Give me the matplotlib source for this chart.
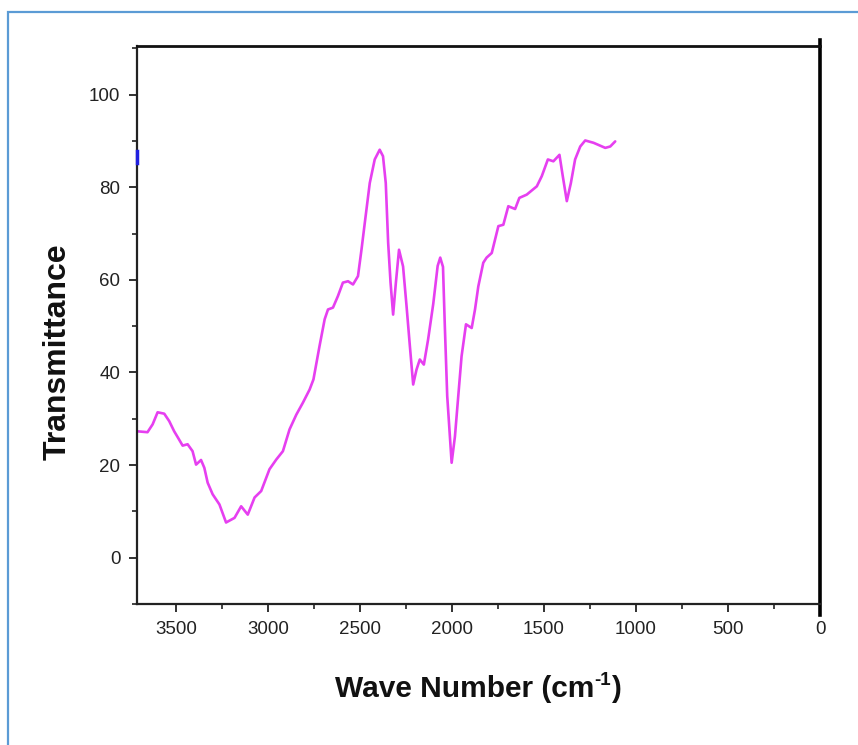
import matplotlib
matplotlib.use("Agg")
import matplotlib.pyplot as plt
from matplotlib.patches import Rectangle
from matplotlib.lines import Line2D
from matplotlib.ticker import MultipleLocator

plt.rcParams['font.family'] = ['Liberation Sans', 'DejaVu Sans']

wavenumber = [3712, 3655, 3627, 3600, 3564, 3537, 3510, 3486, 3464, 3437, 3410, 3391,
              3364, 3346, 3328, 3301, 3264, 3228, 3182, 3146, 3110, 3073, 3037, 2992,
              2955, 2919, 2883, 2846, 2810, 2774, 2753, 2720, 2692, 2674, 2647, 2620,
              2593, 2565, 2538, 2511, 2492, 2474, 2447, 2420, 2393, 2375, 2360, 2347,
              2334, 2320, 2305, 2288, 2266, 2247, 2229, 2211, 2193, 2175, 2153, 2130,
              2102, 2078, 2064, 2049, 2039, 2026, 2002, 1984, 1966, 1948, 1924, 1893,
              1875, 1857, 1830, 1812, 1784, 1766, 1748, 1721, 1694, 1657, 1634, 1594,
              1539, 1512, 1479, 1449, 1416, 1398, 1376, 1354, 1331, 1303, 1276, 1231,
              1167, 1140, 1113]
transmittance = [27.3, 27.1, 28.8, 31.4, 31.1, 29.5, 27.3, 25.7, 24.2, 24.5, 23.0, 20.1,
                 21.1, 19.4, 16.2, 13.7, 11.5, 7.6, 8.6, 11.1, 9.3, 13.0, 14.4, 19.1,
                 21.2, 23.0, 27.7, 30.9, 33.5, 36.3, 38.5, 45.7, 51.5, 53.6, 54.0, 56.5,
                 59.4, 59.7, 59.0, 60.8, 66.5, 72.3, 80.9, 86.0, 88.1, 86.7, 80.9, 68.0,
                 59.4, 52.5, 59.4, 66.5, 62.9, 54.3, 45.7, 37.4, 40.6, 42.8, 41.7, 47.1,
                 54.8, 63.0, 64.8, 62.8, 50.0, 34.9, 20.5, 26.2, 34.9, 43.5, 50.4, 49.6,
                 53.6, 58.6, 63.7, 64.8, 65.8, 68.7, 71.6, 71.9, 75.9, 75.3, 77.7, 78.4,
                 80.2, 82.4, 86.0, 85.6, 87.0, 82.4, 77.0, 80.9, 86.0, 88.8, 90.1, 89.6,
                 88.5, 88.8, 89.9]

# small blue artifact on the left axis
blue_mark_y = [85.2, 87.8]

x_ticks = [3500, 3000, 2500, 2000, 1500, 1000, 500, 0]
y_ticks = [0, 20, 40, 60, 80, 100]
x_left, x_right = 3712, 0
y_bottom, y_top = -10, 110.5

W, H = 858, 745
fig = plt.figure(figsize=(W/100, H/100), dpi=100)
ax = fig.add_axes([137/W, 1-604/H, (820-137)/W, (604-46)/H])

ax.plot(wavenumber, transmittance, color='#e63ff0', lw=1.9, solid_capstyle='round',
        solid_joinstyle='round')
ax.plot([x_left, x_left], blue_mark_y, color='#2020e0', lw=2.5, clip_on=False, zorder=5)

ax.set_xlim(x_left, x_right)
ax.set_ylim(y_bottom, y_top)
ax.set_xticks(x_ticks)
ax.set_yticks(y_ticks)
ax.xaxis.set_minor_locator(MultipleLocator(250))
ax.yaxis.set_minor_locator(MultipleLocator(10))
ax.tick_params(which='major', direction='out', length=6, width=1.3, colors='#222222',
               labelsize=13.5, labelcolor='#222222')
ax.tick_params(axis='x', which='major', pad=6)
ax.tick_params(axis='y', which='major', pad=6)
ax.tick_params(which='minor', direction='out', length=3.5, width=1.2, colors='#222222')
ax.tick_params(top=False, right=False, which='both')

for s in ['left', 'bottom']:
    ax.spines[s].set_linewidth(1.6)
    ax.spines[s].set_color('#222222')
ax.spines['top'].set_linewidth(2.0)
ax.spines['top'].set_color('#111111')
ax.spines['right'].set_visible(False)
ax.add_line(Line2D([1, 1], [-0.02, 1.01], transform=ax.transAxes, color='#000000',
                   lw=2.6, clip_on=False))

# x label composed of main text, hyphen superscript and closing bracket
renderer = fig.canvas.get_renderer()
base_y = 1 - 697/H
t1 = fig.text(0, base_y, 'Wave Number (cm', ha='left', va='baseline',
              fontsize=21.5, fontweight='bold', color='#111111')
t2 = fig.text(0, base_y, '-1', ha='left', va='baseline',
              fontsize=13.5, fontweight='bold', color='#111111')
t3 = fig.text(0, base_y, ')', ha='left', va='baseline',
              fontsize=21.5, fontweight='bold', color='#111111')
w1 = t1.get_window_extent(renderer).width
w2 = t2.get_window_extent(renderer).width
w3 = t3.get_window_extent(renderer).width
total = w1 + w2 + w3
x0 = 478 - total / 2
t1.set_x(x0 / W)
t2.set_x((x0 + w1) / W)
t2.set_y(1 - 685/H)
t3.set_x((x0 + w1 + w2) / W)

fig.text(58/W, 1-352/H, 'Transmittance', ha='center', va='center', rotation=90,
         fontsize=23, fontweight='bold', color='#111111')

fig.add_artist(Rectangle((8/W, -0.1), 2.0, (H-12.3)/H + 0.1,
                         transform=fig.transFigure, fill=False,
                         edgecolor='#5b9bd5', lw=1.6))

fig.savefig('out.png', dpi=100)
